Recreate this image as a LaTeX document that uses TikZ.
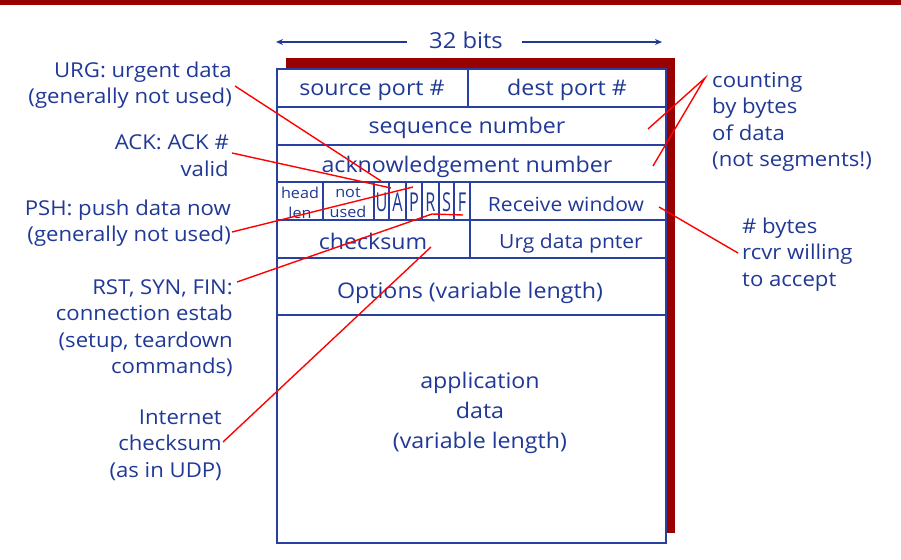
\documentclass[tikz,border=0pt]{standalone}
\usepackage{fontspec}
\setmainfont[FakeStretch=1.08]{Open Sans}
\usetikzlibrary{arrows.meta}
\definecolor{tblue}{RGB}{32,56,150}
\definecolor{lblue}{RGB}{40,64,160}
\definecolor{shred}{RGB}{153,0,0}
\definecolor{ldred}{RGB}{255,0,0}
\begin{document}
\begin{tikzpicture}[x=1pt,y=-1pt,
  lbl/.style={text=tblue, inner sep=0pt, font=\fontsize{20.5}{26.5}\selectfont},
  rlbl/.style={lbl, align=right},
  llbl/.style={lbl, align=left},
  fld/.style={text=tblue, inner sep=0pt, font=\fontsize{21.5}{30}\selectfont},
  small/.style={text=tblue, inner sep=0pt, font=\fontsize{15}{20}\selectfont},
  flag/.style={text=tblue, inner sep=0pt, font=\fontsize{26}{26}\selectfont},
  grid/.style={draw=lblue, line width=1.8pt},
  leader/.style={draw=ldred, line width=1.4pt},
  dim/.style={draw=tblue, line width=1.4pt, -{Stealth[length=7pt,width=6pt]}}]
\useasboundingbox (0,0) rectangle (901,559);
% top bar
\fill[shred] (0,0) rectangle (901,5);
% shadow
\fill[shred] (286,58) rectangle (675,533);
% box
\fill[white] (277,69) rectangle (666,543);
\draw[grid] (277,69) rectangle (666,543);
\draw[grid] (277,107) -- (666,107);
\draw[grid] (277,145) -- (666,145);
\draw[grid] (277,182) -- (666,182);
\draw[grid] (277,220) -- (666,220);
\draw[grid] (277,258) -- (666,258);
\draw[grid] (277,315) -- (666,315);
\draw[grid] (468,69) -- (468,107);
\draw[grid] (470,182) -- (470,258);
\foreach \x in {323,374,389,406,422,439,454} \draw[grid, line width=1.4pt] (\x,182) -- (\x,220);

% 32 bits
\node[lbl, font=\fontsize{22}{26}\selectfont] (bits) at (466,40) {32 bits};
\coordinate (bl) at (276,42);
\coordinate (br) at (662,42);
\draw[dim] (bits.west) ++(-22,2) coordinate (blin) -- (bl);
\draw[dim] (bits.east) ++(19,2) coordinate (brin) -- (br);

% fields
\node[fld] (src) at (372,90) {source port \#};
\node[fld] (dst) at (567,90) {dest port \#};
\node[fld] (seq) at (467,128) {sequence number};
\node[fld] (ack) at (467,167) {acknowledgement number};
\begin{scope}
\clip (277,182) rectangle (323,220);
\node[small, align=center] (hl) at (300,202.5) {head\\len};
\end{scope}
\node[small, align=center] (nu) at (348,202.5) {not\\used};
\node[flag] (fu) at (381.5,202) {\scalebox{0.58}[1]{U}};
\node[flag] (fa) at (397.5,202) {\scalebox{0.58}[1]{A}};
\node[flag] (fp) at (414,202) {\scalebox{0.58}[1]{P}};
\node[flag] (fr) at (430.5,202) {\scalebox{0.58}[1]{R}};
\node[flag] (fs) at (446.5,202) {\scalebox{0.58}[1]{S}};
\node[flag] (ff) at (462,202) {\scalebox{0.58}[1]{F}};
\node[fld, font=\fontsize{19.5}{24}\selectfont] (rw) at (566,204) {Receive window};
\node[fld] (cks) at (373,241) {checksum};
\node[fld, font=\fontsize{19.5}{24}\selectfont] (urg) at (571,243) {Urg data pnter};
\node[fld] (opt) at (470,293) {Options (variable length)};
\node[fld, align=center] (app) at (480,413) {application\\data\\(variable length)};

% left labels
\node[rlbl, anchor=east] (lurg) at (232,85) {URG: urgent data\\(generally not used)};
\node[rlbl, anchor=east] (lack) at (229,155.5) {ACK: ACK \#\\valid};
\node[rlbl, anchor=east] (lpsh) at (231,223) {PSH: push data now\\(generally not used)};
\node[rlbl, anchor=east] (lrst) at (233,328) {RST, SYN, FIN:\\connection estab\\(setup, teardown\\commands)};
\node[rlbl, anchor=east] (lcks) at (222,445) {Internet\\checksum\\(as in UDP)};
% right labels
\node[llbl, anchor=west] (rcnt) at (712,122) {counting\\by bytes\\of data\\(not segments!)};
\node[llbl, anchor=west] (rbyt) at (742,254.5) {\# bytes\\rcvr willing\\to accept};

% leader lines
\coordinate (a1) at (235,86);  \coordinate (e1) at (381,181);
\coordinate (a2) at (232,153); \coordinate (e2) at (391,188);
\coordinate (a3) at (232,232); \coordinate (e3) at (413,187);
\coordinate (a4) at (237,282); \coordinate (k4) at (432,214); \coordinate (e4) at (463,215);
\coordinate (a5) at (223,442); \coordinate (e5) at (431,247);
\coordinate (a6) at (705,78);  \coordinate (e6) at (648,129); \coordinate (e7) at (653,166);
\coordinate (a8) at (738,253); \coordinate (e8) at (659,207);
\draw[leader] (a1) -- (e1);
\draw[leader] (a2) -- (e2);
\draw[leader] (a3) -- (e3);
\draw[leader] (a4) -- (k4) -- (e4);
\draw[leader] (a5) -- (e5);
\draw[leader] (e6) -- (a6) -- (e7);
\draw[leader] (a8) -- (e8);
\end{tikzpicture}
\end{document}
